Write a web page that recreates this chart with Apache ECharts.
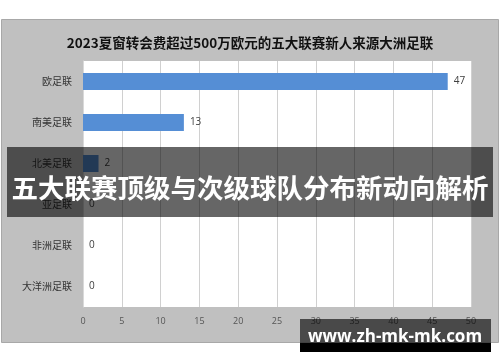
<!DOCTYPE html>
<html><head><meta charset="utf-8">
<script src="https://cdn.jsdelivr.net/npm/echarts@6/dist/echarts.min.js"></script>
<style>html,body{margin:0;padding:0;background:#fff;}#c{width:500px;height:362px;}</style>
</head><body><div id="c"></div>
<script>
const titleText = '2023夏窗转会费超过500万欧元的五大联赛新人来源大洲足联';
const categories = ['欧足联', '南美足联', '北美足联', '亚足联', '非洲足联', '大洋洲足联'];
const values = [47, 13, 2, 0, 0, 0];
const xTicks = [0, 5, 10, 15, 20, 25, 30, 35, 40, 45, 50];
const bannerText = '五大联赛顶级与次级球队分布新动向解析';
const watermarkText = 'www.zh-mk-mk.com';

const chart = echarts.init(document.getElementById('c'), null, {renderer: 'canvas'});
chart.setOption({
  animation: false,
  backgroundColor: '#fff',
  title: {
    text: titleText, left: 'center', top: 31,
    textStyle: {fontFamily: 'Noto Sans CJK SC', fontWeight: 'bold', fontSize: 13.5, color: '#111'}
  },
  grid: {left: 83, right: 29, top: 61, bottom: 55, backgroundColor: '#fff', show: true, borderWidth: 0},
  xAxis: {
    type: 'value', min: xTicks[0], max: xTicks[xTicks.length - 1], interval: 5,
    axisLine: {show: false}, axisTick: {show: false},
    axisLabel: {color: '#555', fontSize: 9, fontFamily: 'Open Sans', margin: 10},
    splitLine: {show: true, lineStyle: {color: '#d0d0d0', width: 1}}
  },
  yAxis: {
    type: 'category', data: categories, inverse: true,
    axisLine: {show: true, lineStyle: {color: '#d9d9d9'}}, axisTick: {show: false},
    axisLabel: {color: '#333', fontSize: 10, fontFamily: 'Noto Sans CJK SC', margin: 11}
  },
  series: [{
    type: 'bar', data: values, barWidth: 17,
    itemStyle: {color: '#558ed5'},
    label: {show: true, position: 'right', distance: 6, color: '#404040', fontSize: 10, fontFamily: 'Open Sans'}
  }],
  graphic: [
    {type: 'rect', z: -10, silent: true, shape: {x: 1.5, y: 19.5, width: 497, height: 323},
     style: {fill: '#c0c0c0', stroke: '#a8a8a8', lineWidth: 1}},
    {type: 'rect', z: 100, silent: true, shape: {x: 7, y: 147, width: 486, height: 70},
     style: {fill: 'rgba(0,0,0,0.6)'}},
    {type: 'text', z: 101, silent: true, x: 250, y: 188,
     style: {text: bannerText, fill: '#fff', fontSize: 26.5, fontWeight: 'bold', fontFamily: 'Noto Sans CJK SC', align: 'center', verticalAlign: 'middle'}},
    {type: 'rect', z: 100, silent: true, shape: {x: 300, y: 319, width: 191, height: 33},
     style: {fill: 'rgba(0,0,0,0.62)'}},
    {type: 'rect', z: 100, silent: true, shape: {x: 300, y: 343, width: 191, height: 9},
     style: {fill: '#000'}},
    {type: 'text', z: 101, silent: true, x: 395, y: 337,
     style: {text: watermarkText, fill: '#fff', fontSize: 17, fontWeight: 'bold', fontFamily: 'Open Sans', align: 'center', verticalAlign: 'middle'}}
  ]
});
</script></body></html>
